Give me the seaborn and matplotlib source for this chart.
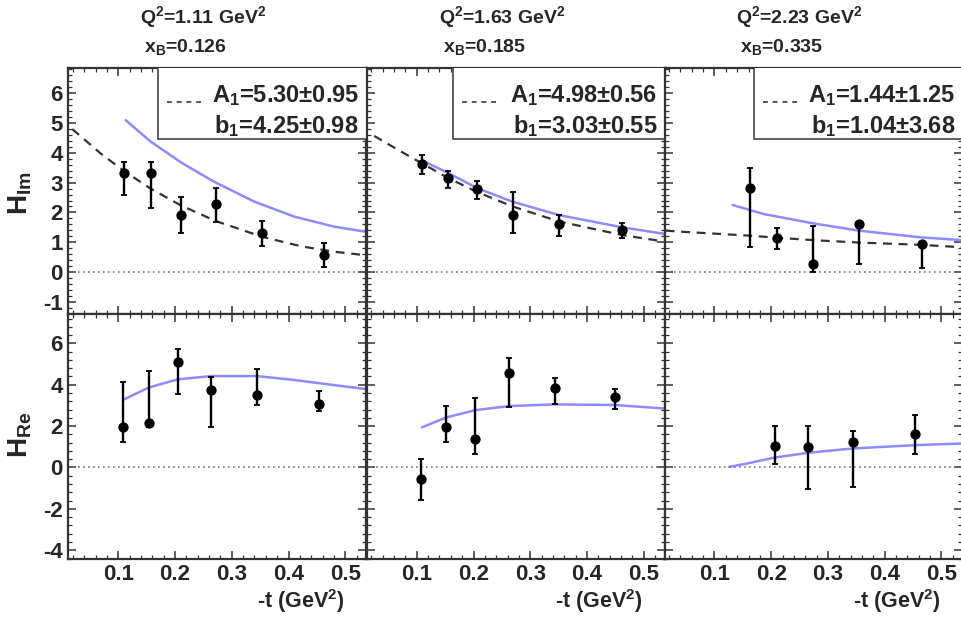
import numpy as np
import pandas as pd
import matplotlib
matplotlib.use("Agg")
import matplotlib.pyplot as plt
from matplotlib.patches import Rectangle
from matplotlib.ticker import MultipleLocator
import seaborn as sbr

# values
col_titles = [r"Q$^2$=1.11 GeV$^2$", r"Q$^2$=1.63 GeV$^2$", r"Q$^2$=2.23 GeV$^2$"]
col_xb = [r"x$_\mathrm{B}$=0.126", r"x$_\mathrm{B}$=0.185", r"x$_\mathrm{B}$=0.335"]
fit_A = [r"A$_1$=5.30$\pm$0.95", r"A$_1$=4.98$\pm$0.56", r"A$_1$=1.44$\pm$1.25"]
fit_b = [r"b$_1$=4.25$\pm$0.98", r"b$_1$=3.03$\pm$0.55", r"b$_1$=1.04$\pm$3.68"]

# H_Im, first column
im1_t = [0.111, 0.158, 0.210, 0.272, 0.354, 0.463]
im1_val = [3.31, 3.31, 1.90, 2.27, 1.30, 0.57]
im1_hi = [3.70, 3.71, 2.51, 2.83, 1.71, 0.96]
im1_lo = [2.59, 2.14, 1.30, 1.67, 0.88, 0.16]
im1_fit_t = [0.019, 0.069, 0.111, 0.157, 0.210, 0.272, 0.354, 0.423, 0.481, 0.537]
im1_fit = [4.80, 3.98, 3.38, 2.80, 2.24, 1.71, 1.18, 0.86, 0.68, 0.56]
im1_mod_t = [0.113, 0.157, 0.213, 0.269, 0.340, 0.410, 0.481, 0.537]
im1_mod = [5.10, 4.38, 3.65, 3.03, 2.36, 1.86, 1.52, 1.35]

# H_Im, second column
im2_t = [0.109, 0.155, 0.207, 0.269, 0.350, 0.462]
im2_val = [3.62, 3.15, 2.78, 1.91, 1.61, 1.40]
im2_hi = [3.92, 3.39, 3.07, 2.69, 1.91, 1.66]
im2_lo = [3.28, 2.81, 2.44, 1.32, 1.22, 1.13]
im2_fit_t = [0.025, 0.069, 0.109, 0.155, 0.207, 0.269, 0.350, 0.462, 0.537]
im2_fit = [4.57, 4.08, 3.65, 3.16, 2.68, 2.20, 1.70, 1.24, 1.02]
im2_mod_t = [0.110, 0.157, 0.207, 0.269, 0.351, 0.462, 0.537]
im2_mod = [3.74, 3.31, 2.81, 2.36, 1.91, 1.50, 1.28]

# H_Im, third column
im3_t = [0.162, 0.211, 0.274, 0.354, 0.466]
im3_val = [2.81, 1.15, 0.26, 1.61, 0.93]
im3_hi = [3.48, 1.47, 1.56, 1.69, 1.02]
im3_lo = [0.83, 0.77, -0.01, 0.27, 0.12]
im3_fit_t = [0.014, 0.045, 0.162, 0.211, 0.274, 0.354, 0.466, 0.537]
im3_fit = [1.39, 1.35, 1.22, 1.15, 1.07, 0.99, 0.91, 0.83]
im3_mod_t = [0.132, 0.186, 0.275, 0.354, 0.466, 0.537]
im3_mod = [2.25, 1.95, 1.63, 1.39, 1.16, 1.07]

# H_Re, first column
re1_t = [0.109, 0.154, 0.205, 0.264, 0.344, 0.453]
re1_val = [1.94, 2.13, 5.11, 3.77, 3.50, 3.08]
re1_hi = [4.15, 4.66, 5.71, 4.39, 4.74, 3.71]
re1_lo = [1.24, 1.94, 3.53, 1.97, 3.00, 2.73]
re1_mod_t = [0.110, 0.154, 0.205, 0.264, 0.344, 0.410, 0.481, 0.537]
re1_mod = [3.29, 3.87, 4.26, 4.42, 4.42, 4.23, 3.98, 3.79]

# H_Re, second column
re2_t = [0.107, 0.152, 0.203, 0.263, 0.343, 0.449]
re2_val = [-0.58, 1.97, 1.40, 4.55, 3.82, 3.42]
re2_hi = [0.39, 2.97, 3.37, 5.31, 4.35, 3.79]
re2_lo = [-1.58, 1.24, 0.65, 2.94, 3.06, 2.82]
re2_mod_t = [0.109, 0.152, 0.203, 0.263, 0.343, 0.449, 0.537]
re2_mod = [1.94, 2.42, 2.77, 2.97, 3.05, 3.02, 2.85]

# H_Re, third column
re3_t = [0.206, 0.265, 0.344, 0.454]
re3_val = [1.05, 0.98, 1.21, 1.61]
re3_hi = [2.02, 2.02, 1.77, 2.53]
re3_lo = [0.16, -1.06, -0.94, 0.65]
re3_mod_t = [0.126, 0.157, 0.206, 0.265, 0.344, 0.454, 0.537]
re3_mod = [0.03, 0.19, 0.48, 0.71, 0.92, 1.08, 1.16]

im_data = [(im1_t, im1_val, im1_hi, im1_lo, im1_fit_t, im1_fit, im1_mod_t, im1_mod),
           (im2_t, im2_val, im2_hi, im2_lo, im2_fit_t, im2_fit, im2_mod_t, im2_mod),
           (im3_t, im3_val, im3_hi, im3_lo, im3_fit_t, im3_fit, im3_mod_t, im3_mod)]
re_data = [(re1_t, re1_val, re1_hi, re1_lo, re1_mod_t, re1_mod),
           (re2_t, re2_val, re2_hi, re2_lo, re2_mod_t, re2_mod),
           (re3_t, re3_val, re3_hi, re3_lo, re3_mod_t, re3_mod)]

sbr.set_style("ticks")
plt.rcParams['font.family'] = ['Liberation Sans', 'DejaVu Sans']
plt.rcParams['font.weight'] = 'bold'
plt.rcParams['axes.unicode_minus'] = False
plt.rcParams['mathtext.fontset'] = 'custom'
plt.rcParams['mathtext.rm'] = 'Liberation Sans:bold'
plt.rcParams['mathtext.it'] = 'Liberation Sans:bold'
plt.rcParams['mathtext.bf'] = 'Liberation Sans:bold'

model_color = '#8c8cff'
W, H = 962.0, 617.0
fig = plt.figure(figsize=(W / 100, H / 100), dpi=100)

# panel geometry in pixels
col_left = [68.3, 366.8, 664.5]
col_w = 298.0
row_top = [68.0, 314.0]
row_h = [246.0, 244.5]


def style_axes(ax, ylim, ymajor, yminor, show_y, show_x):
    ax.set_xlim(0.012, 0.537)
    ax.set_ylim(*ylim)
    ax.xaxis.set_major_locator(MultipleLocator(0.1))
    ax.xaxis.set_minor_locator(MultipleLocator(0.02))
    ax.yaxis.set_major_locator(MultipleLocator(ymajor))
    ax.yaxis.set_minor_locator(MultipleLocator(yminor))
    ax.tick_params(which='both', direction='in', top=True, right=True, color='#333333')
    ax.tick_params(which='major', length=6, width=1.1)
    ax.tick_params(which='minor', length=3, width=0.9)
    ax.tick_params(axis='both', labelsize=16, pad=4)
    for s in ax.spines.values():
        s.set_color('#333333')
        s.set_linewidth(1.6)
    if not show_y:
        ax.set_yticklabels([])
    if not show_x:
        ax.set_xticklabels([])
    ax.set_xlabel('')
    ax.set_ylabel('')
    ax.hlines(0, 0.02, 0.525, colors='#777777', linestyles=(0, (1, 2)), linewidth=1.2)


def draw_points(ax, t, val, hi, lo):
    pts = pd.DataFrame({'t': t, 'v': val})
    err = np.array([np.array(val) - np.array(lo), np.array(hi) - np.array(val)])
    ax.errorbar(t, val, yerr=err, fmt='none', ecolor='black', elinewidth=1.7,
                capsize=2.5, capthick=1.3, zorder=4)
    sbr.scatterplot(data=pts, x='t', y='v', ax=ax, color='black', s=55,
                    edgecolor='black', linewidth=0, zorder=5)


for c in range(3):
    # top row: H_Im
    left = col_left[c] / W
    bottom = 1 - (row_top[0] + row_h[0]) / H
    ax = fig.add_axes([left, bottom, col_w / W, row_h[0] / H])
    t, val, hi, lo, ft, fv, mt, mv = im_data[c]
    sbr.lineplot(x=mt, y=mv, ax=ax, color=model_color, linewidth=1.8, zorder=2)
    sbr.lineplot(x=ft, y=fv, ax=ax, color='#333333', linewidth=1.6, zorder=3,
                 linestyle=(0, (4, 3)))
    draw_points(ax, t, val, hi, lo)
    style_axes(ax, (-1.41, 6.85), 1, 0.2, c == 0, False)

    # fit result box
    bx = 0.30 if c != 1 else 0.29
    ax.add_patch(Rectangle((bx, 0.711), 1.2, 0.4, transform=ax.transAxes,
                           facecolor='white', edgecolor='#444444', linewidth=1.2,
                           zorder=6, clip_on=True))
    ax.plot([bx + 0.03, bx + 0.15], [0.862, 0.862], transform=ax.transAxes,
            color='#555555', linewidth=1.4, linestyle=(0, (2.5, 2.5)), zorder=7)
    ax.text(0.975, 0.886, fit_A[c], transform=ax.transAxes, ha='right', va='center',
            fontsize=17, zorder=7)
    ax.text(0.975, 0.765, fit_b[c], transform=ax.transAxes, ha='right', va='center',
            fontsize=17, zorder=7)

    # column titles
    fig.text((col_left[c] + 72) / W, 1 - 17 / H, col_titles[c], ha='left', va='center',
             fontsize=14)
    fig.text((col_left[c] + 76) / W, 1 - 47 / H, col_xb[c], ha='left', va='center',
             fontsize=14)

    # bottom row: H_Re
    bottom = 1 - (row_top[1] + row_h[1]) / H
    ax2 = fig.add_axes([left, bottom, col_w / W, row_h[1] / H])
    t, val, hi, lo, mt, mv = re_data[c]
    sbr.lineplot(x=mt, y=mv, ax=ax2, color=model_color, linewidth=1.8, zorder=2)
    draw_points(ax2, t, val, hi, lo)
    style_axes(ax2, (-4.4, 7.42), 2, 0.4, c == 0, True)

    fig.text((col_left[c] + 276) / W, 1 - 601 / H, r"-t (GeV$^2$)", ha='right',
             va='center', fontsize=15.5)

fig.text(20 / W, 1 - 193 / H, r"H$_\mathrm{Im}$", rotation=90, ha='center', va='center',
         fontsize=20)
fig.text(20 / W, 1 - 435 / H, r"H$_\mathrm{Re}$", rotation=90, ha='center', va='center',
         fontsize=20)

plt.savefig('out.png', dpi=100)
plt.close()
